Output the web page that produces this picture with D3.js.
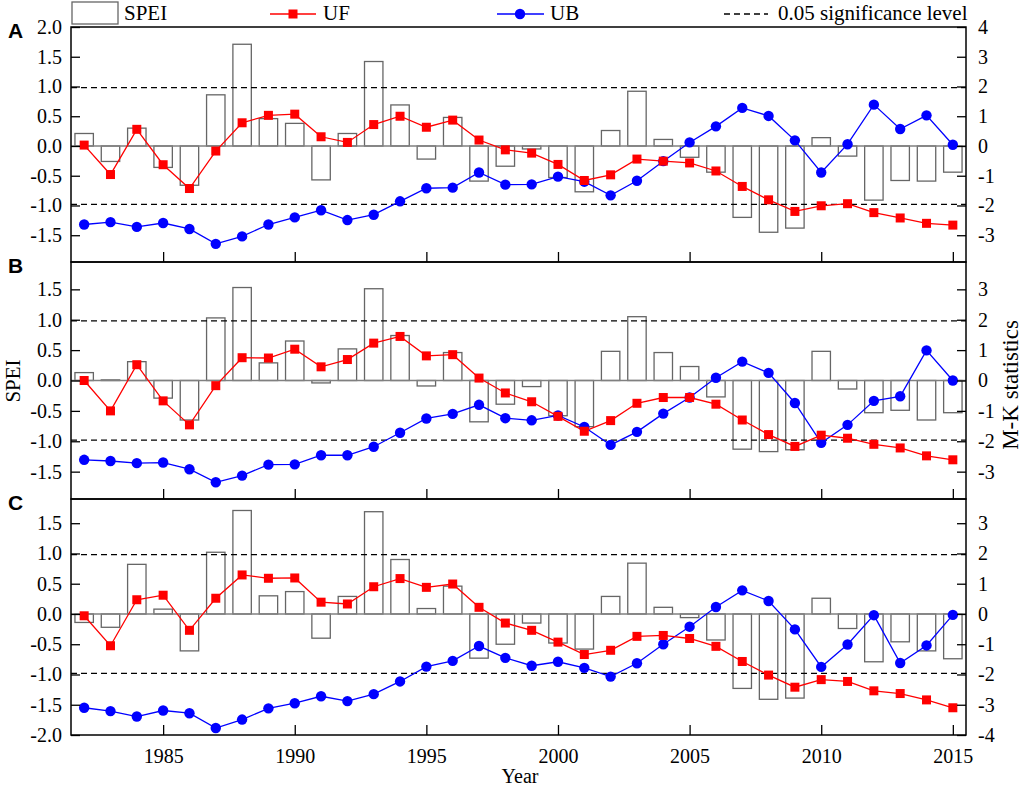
<!DOCTYPE html>
<html>
<head>
<meta charset="utf-8">
<script src="https://cdn.jsdelivr.net/npm/d3@7"></script>
<style>
  body { margin: 0; background: #ffffff; }
  text { font-family: "Liberation Serif", "Times New Roman", serif; fill: #000; }
</style>
</head>
<body>
<svg id="chart" width="1024" height="787"></svg>
<script>
// years and values
var years = d3.range(1982, 2016);

var speiA = [0.21, -0.26, 0.30, -0.36, -0.66, 0.86, 1.71, 0.46, 0.38, -0.57, 0.21, 1.42, 0.69, -0.22, 0.48, -0.59, -0.34,
             -0.05, -0.53, -0.77, 0.26, 0.92, 0.11, -0.19, -0.44, -1.20, -1.45, -1.38, 0.14, -0.17, -0.91, -0.58, -0.59, -0.44];
var ufA = [0.03, -0.96, 0.56, -0.63, -1.43, -0.17, 0.78, 1.03, 1.07, 0.31, 0.12, 0.72, 1.00, 0.63, 0.87, 0.20, -0.13,
           -0.24, -0.62, -1.16, -0.97, -0.44, -0.51, -0.57, -0.84, -1.36, -1.81, -2.20, -2.01, -1.94, -2.24, -2.42, -2.60, -2.66];
var ubA = [-2.64, -2.56, -2.72, -2.59, -2.79, -3.29, -3.04, -2.64, -2.40, -2.16, -2.49, -2.31, -1.86, -1.42, -1.40, -0.89, -1.30,
           -1.29, -1.03, -1.20, -1.66, -1.17, -0.51, 0.12, 0.66, 1.28, 1.01, 0.19, -0.89, 0.06, 1.39, 0.57, 1.03, 0.04];

var speiB = [0.13, 0.01, 0.31, -0.29, -0.65, 1.03, 1.53, 0.29, 0.65, -0.04, 0.52, 1.51, 0.74, -0.09, 0.46, -0.68, -0.39,
             -0.10, -0.58, -0.76, 0.48, 1.05, 0.46, 0.23, -0.27, -1.13, -1.17, -1.14, 0.48, -0.14, -0.53, -0.49, -0.65, -0.53];
var ufB = [0.00, -1.00, 0.52, -0.67, -1.46, -0.17, 0.75, 0.74, 1.03, 0.45, 0.69, 1.23, 1.45, 0.81, 0.85, 0.08, -0.41,
           -0.70, -1.18, -1.67, -1.32, -0.75, -0.56, -0.56, -0.78, -1.30, -1.78, -2.17, -1.80, -1.90, -2.10, -2.22, -2.48, -2.61];
var ubB = [-2.61, -2.65, -2.72, -2.70, -2.92, -3.35, -3.13, -2.77, -2.76, -2.46, -2.46, -2.18, -1.72, -1.25, -1.10, -0.80, -1.24,
           -1.31, -1.15, -1.53, -2.12, -1.69, -1.09, -0.56, 0.09, 0.62, 0.25, -0.74, -2.05, -1.46, -0.67, -0.52, 0.99, 0.00];

var speiC = [-0.14, -0.22, 0.82, 0.08, -0.61, 1.02, 1.71, 0.30, 0.37, -0.40, 0.29, 1.69, 0.90, 0.09, 0.46, -0.73, -0.50,
             -0.15, -0.48, -0.58, 0.29, 0.84, 0.11, -0.06, -0.43, -1.23, -1.41, -1.39, 0.26, -0.24, -0.79, -0.46, -0.61, -0.74];
var ufC = [-0.06, -1.05, 0.47, 0.62, -0.54, 0.52, 1.29, 1.18, 1.19, 0.39, 0.33, 0.90, 1.17, 0.88, 0.99, 0.22, -0.30,
           -0.54, -0.93, -1.34, -1.20, -0.74, -0.71, -0.81, -1.07, -1.57, -2.02, -2.42, -2.17, -2.23, -2.54, -2.63, -2.84, -3.10];
var ubC = [-3.10, -3.21, -3.39, -3.19, -3.28, -3.77, -3.49, -3.12, -2.95, -2.72, -2.88, -2.65, -2.23, -1.74, -1.55, -1.06, -1.45,
           -1.71, -1.58, -1.78, -2.07, -1.63, -1.00, -0.42, 0.23, 0.78, 0.43, -0.51, -1.75, -1.01, -0.04, -1.62, -1.04, -0.03];

var sigLevel = 1.96;
var xTicks = [1985, 1990, 1995, 2000, 2005, 2010, 2015];
var legendLabels = ["SPEI", "UF", "UB", "0.05 significance level"];

var panels = [
    {label: "A", spei: speiA, uf: ufA, ub: ubA, top: 27, bottom: 262,
     left: [-1.95, 2.0], right: [-3.9, 4.0],
     leftTicks: [2.0, 1.5, 1.0, 0.5, 0.0, -0.5, -1.0, -1.5], rightTicks: [4, 3, 2, 1, 0, -1, -2, -3]},
    {label: "B", spei: speiB, uf: ufB, ub: ubB, top: 262, bottom: 499,
     left: [-1.95, 1.95], right: [-3.9, 3.9],
     leftTicks: [1.5, 1.0, 0.5, 0.0, -0.5, -1.0, -1.5], rightTicks: [3, 2, 1, 0, -1, -2, -3]},
    {label: "C", spei: speiC, uf: ufC, ub: ubC, top: 499, bottom: 735,
     left: [-2.0, 1.9], right: [-4.0, 3.8],
     leftTicks: [1.5, 1.0, 0.5, 0.0, -0.5, -1.0, -1.5, -2.0], rightTicks: [3, 2, 1, 0, -1, -2, -3, -4]}
];

var x0 = 71, x1 = 966;
var fontSize = 20;
var red = "#ff0000", blue = "#0000ff", barStroke = "#666666";

var svg = d3.select("#chart");
var x = d3.scaleLinear().domain([1981.5, 2015.5]).range([x0, x1]);
var barW = (x(1) - x(0)) * 0.7;

var drawPanel = function(p, isLast) {
    var yL = d3.scaleLinear().domain(p.left).range([p.bottom, p.top]);
    var yR = d3.scaleLinear().domain(p.right).range([p.bottom, p.top]);
    var g = svg.append("g");

    // bars
    g.selectAll("rect.bar")
        .data(p.spei)
        .enter()
        .append("rect")
        .attr("class", "bar")
        .attr("x", function(d, i) { return x(years[i]) - barW / 2; })
        .attr("y", function(d) { return yL(Math.max(0, d)); })
        .attr("width", barW)
        .attr("height", function(d) { return Math.abs(yL(d) - yL(0)); })
        .attr("fill", "#ffffff")
        .attr("stroke", barStroke)
        .attr("stroke-width", 1.3);

    // zero line
    g.append("line")
        .attr("x1", x0).attr("x2", x1)
        .attr("y1", yL(0)).attr("y2", yL(0))
        .attr("stroke", "#808080")
        .attr("stroke-width", 1.5);

    // significance lines
    [sigLevel, -sigLevel].forEach(function(v) {
        g.append("line")
            .attr("x1", x0).attr("x2", x1)
            .attr("y1", yR(v)).attr("y2", yR(v))
            .attr("stroke", "#000")
            .attr("stroke-width", 1.3)
            .attr("stroke-dasharray", "6,4");
    });

    var line = d3.line()
        .x(function(d, i) { return x(years[i]); })
        .y(function(d) { return yR(d); });

    // UB
    g.append("path")
        .datum(p.ub)
        .attr("d", line)
        .attr("fill", "none")
        .attr("stroke", blue)
        .attr("stroke-width", 1.3);
    g.selectAll("circle.ub")
        .data(p.ub)
        .enter()
        .append("circle")
        .attr("class", "ub")
        .attr("cx", function(d, i) { return x(years[i]); })
        .attr("cy", function(d) { return yR(d); })
        .attr("r", 5.2)
        .attr("fill", blue);

    // UF
    g.append("path")
        .datum(p.uf)
        .attr("d", line)
        .attr("fill", "none")
        .attr("stroke", red)
        .attr("stroke-width", 1.3);
    g.selectAll("rect.uf")
        .data(p.uf)
        .enter()
        .append("rect")
        .attr("class", "uf")
        .attr("x", function(d, i) { return x(years[i]) - 4.5; })
        .attr("y", function(d) { return yR(d) - 4.5; })
        .attr("width", 9)
        .attr("height", 9)
        .attr("fill", red);

    // frame
    g.append("rect")
        .attr("x", x0).attr("y", p.top)
        .attr("width", x1 - x0).attr("height", p.bottom - p.top)
        .attr("fill", "none")
        .attr("stroke", "#000")
        .attr("stroke-width", 1.5);

    // axes, ticks pointing inside
    var axL = d3.axisLeft(yL).tickValues(p.leftTicks).tickSize(-9).tickPadding(9)
        .tickFormat(function(d) { return d.toFixed(1); });
    var gl = g.append("g").attr("transform", "translate(" + x0 + ",0)").call(axL);
    gl.select(".domain").remove();

    var axR = d3.axisRight(yR).tickValues(p.rightTicks).tickSize(-9).tickPadding(12)
        .tickFormat(function(d) { return String(d); });
    var gr = g.append("g").attr("transform", "translate(" + x1 + ",0)").call(axR);
    gr.select(".domain").remove();

    var axB = d3.axisBottom(x).tickValues(xTicks).tickSize(-10).tickPadding(14)
        .tickFormat(isLast ? d3.format("d") : function() { return ""; });
    var gb = g.append("g").attr("transform", "translate(0," + p.bottom + ")").call(axB);
    gb.select(".domain").remove();

    [gl, gr, gb].forEach(function(a) {
        a.selectAll(".tick line").attr("stroke", "#000").attr("stroke-width", 1.3);
        a.selectAll(".tick text")
            .style("font-family", "'Liberation Serif', 'Times New Roman', serif")
            .style("font-size", fontSize + "px")
            .attr("fill", "#000");
    });

    // panel letter
    svg.append("text")
        .attr("x", 8)
        .attr("y", p.top + 11)
        .style("font-family", "'Liberation Sans', Arial, sans-serif")
        .style("font-weight", "bold")
        .style("font-size", "21px")
        .text(p.label);
};

panels.forEach(function(p, i) { drawPanel(p, i === panels.length - 1); });

// axis titles
svg.append("text")
    .attr("transform", "translate(20,381) rotate(-90)")
    .attr("text-anchor", "middle")
    .style("font-size", "21px")
    .text("SPEI");
svg.append("text")
    .attr("transform", "translate(1018,385) rotate(-90)")
    .attr("text-anchor", "middle")
    .style("font-size", "23px")
    .text("M-K statistics");
svg.append("text")
    .attr("x", 520).attr("y", 783)
    .attr("text-anchor", "middle")
    .style("font-size", "20px")
    .text("Year");

// legend
var lg = svg.append("g").style("font-size", "21px");
lg.append("rect").attr("x", 72).attr("y", 2).attr("width", 46).attr("height", 22)
    .attr("fill", "#fff").attr("stroke", barStroke).attr("stroke-width", 1.3);
lg.append("text").attr("x", 124).attr("y", 20).text(legendLabels[0]);

lg.append("line").attr("x1", 270).attr("x2", 316).attr("y1", 14).attr("y2", 14)
    .attr("stroke", red).attr("stroke-width", 1.3);
lg.append("rect").attr("x", 288.5).attr("y", 9.5).attr("width", 9).attr("height", 9).attr("fill", red);
lg.append("text").attr("x", 323).attr("y", 20).text(legendLabels[1]);

lg.append("line").attr("x1", 497).attr("x2", 544).attr("y1", 14).attr("y2", 14)
    .attr("stroke", blue).attr("stroke-width", 1.3);
lg.append("circle").attr("cx", 520).attr("cy", 14).attr("r", 5.2).attr("fill", blue);
lg.append("text").attr("x", 550).attr("y", 20).text(legendLabels[2]);

lg.append("line").attr("x1", 724).attr("x2", 768).attr("y1", 14).attr("y2", 14)
    .attr("stroke", "#000").attr("stroke-width", 1.3).attr("stroke-dasharray", "6,4");
lg.append("text").attr("x", 778).attr("y", 20).text(legendLabels[3]);
</script>
</body>
</html>
